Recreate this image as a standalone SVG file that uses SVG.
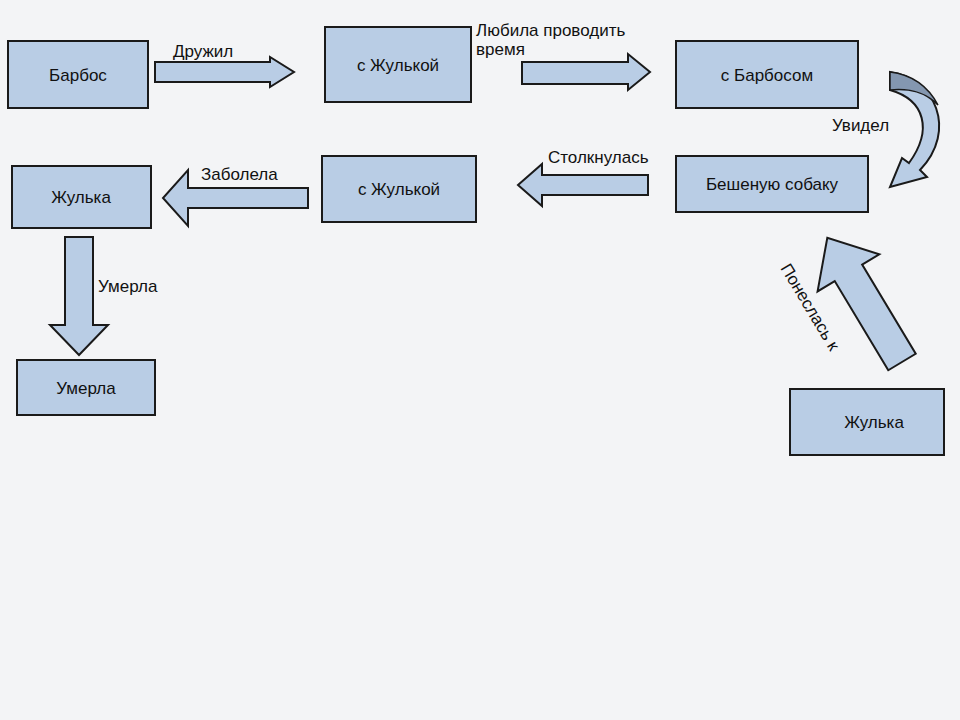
<svg xmlns="http://www.w3.org/2000/svg" width="960" height="720" viewBox="0 0 960 720">
<style>
.n{fill:#b9cde5;stroke:#1a1a1a;stroke-width:2}
.a{fill:#b9cde5;stroke:#1a1a1a;stroke-width:2;stroke-linejoin:miter}
text{font-family:"Liberation Sans",Arial,sans-serif;font-size:17px;fill:#111}
.c{text-anchor:middle}
</style>
<rect width="960" height="720" fill="#f3f4f6"/>
<g id="n1"><rect class="n" x="8" y="41" width="140" height="67"/><text class="c" x="78" y="81">Барбос</text></g>
<g id="n2"><rect class="n" x="325" y="27" width="146" height="75"/><text class="c" x="398" y="71">с Жулькой</text></g>
<g id="n3"><rect class="n" x="676" y="41" width="182" height="67"/><text class="c" x="767" y="81">с Барбосом</text></g>
<g id="n4"><rect class="n" x="676" y="156" width="192" height="56"/><text class="c" x="772" y="190">Бешеную собаку</text></g>
<g id="n5"><rect class="n" x="322" y="156" width="154" height="66"/><text class="c" x="399" y="195">с Жулькой</text></g>
<g id="n6"><rect class="n" x="12" y="166" width="139" height="62"/><text class="c" x="81" y="203">Жулька</text></g>
<g id="n7"><rect class="n" x="17" y="360" width="138" height="55"/><text class="c" x="86" y="394">Умерла</text></g>
<g id="n8"><rect class="n" x="790" y="389" width="154" height="66"/><text class="c" x="874" y="428">Жулька</text></g>
<g id="connectors">
<path class="a" d="M155,62 H270 V57 L294,72 L270,87 V82 H155 Z"/>
<text x="173" y="57">Дружил</text>
<path class="a" d="M522,62 H628 V54 L650,72 L628,90 V84 H522 Z"/>
<text x="476" y="36">Любила проводить</text>
<text x="476" y="55">время</text>
<path class="a" d="M890,72 C935,78 958,130 920,170 L927,177 L890,187 L902,158 L909,163 C933,130 925,100 890,90 Z" fill="#b9cde5"/>
<path d="M890,72 C915,75 930,90 938,105 C925,92 910,88 890,90 Z" fill="#8497b0" stroke="#1a1a1a" stroke-width="1.5"/>
<text x="832" y="131">Увидел</text>
<path class="a" d="M648,175 H542 V164 L518,185 L542,206 V195 H648 Z"/>
<text x="548" y="163">Столкнулась</text>
<path class="a" d="M308,188 H188 V170 L163,198 L188,226 V208 H308 Z"/>
<text x="201" y="180">Заболела</text>
<path class="a" d="M65,237 H93 V325 H108 L79,355 L50,325 H65 Z"/>
<text x="98" y="292">Умерла</text>
<g transform="translate(902,362) rotate(-31)">
<path class="a" d="M-16,0 V-104 H-36 L0,-145 L36,-104 H16 V0 Z"/>
</g>
<text transform="translate(780,268) rotate(59)">Понеслась к</text>
</g>
</svg>
